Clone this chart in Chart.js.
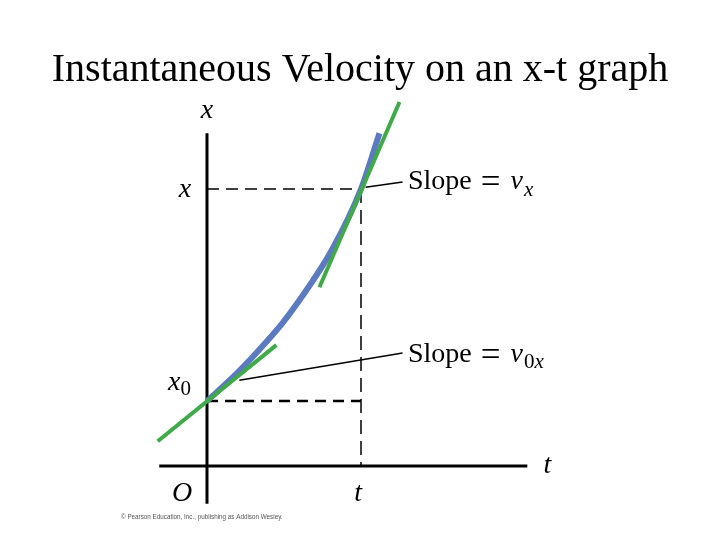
<!DOCTYPE html>
<html>
<head>
<meta charset="utf-8">
<script src="https://cdn.jsdelivr.net/npm/chart.js@4.4.1/dist/chart.umd.min.js"></script>
<style>
  body { margin: 0; background: #fff; }
  #wrap { width: 720px; height: 540px; position: relative; }
</style>
</head>
<body>
<div id="wrap"><canvas id="chart"></canvas></div>
<script>
// t in units of the marked time t, x in units of x0
let curveT = [0, 0.17, 0.32, 0.49, 0.6, 0.81, 1.0, 1.12];
let curveX = [1.0, 1.37, 1.74, 2.2, 2.55, 3.32, 4.26, 5.12];

let tangent0T = [-0.32, 0.45];
let tangent0X = [0.38, 1.86];
let tangentT = [0.73, 1.25];
let tangentX = [2.75, 5.6];

let tMark = 1.0;
let xAtT = 4.26;
let x0 = 1.0;

let tAxis = [-0.31, 2.08];
let xAxis = [-0.58, 5.12];

let pointerVx = [[1.03, 4.29], [1.27, 4.37]];
let pointerV0x = [[0.21, 1.32], [1.27, 1.74]];

function pts(ts, xs) {
    return ts.map(function(t, i) { return { x: t, y: xs[i] }; });
}

const SERIF = '"Liberation Serif", "Times New Roman", serif';

// text labels drawn at scale positions
const textPlugin = {
    id: "textPlugin",
    afterDraw: function(c) {
        let ctx = c.ctx;
        let sx = c.scales.x, sy = c.scales.y;
        function px(t) { return sx.getPixelForValue(t); }
        function py(x) { return sy.getPixelForValue(x); }

        ctx.save();
        ctx.fillStyle = "#000";
        ctx.textBaseline = "alphabetic";

        // title
        ctx.font = "40px " + SERIF;
        ctx.textAlign = "center";
        ctx.fillText("Instantaneous Velocity on an x-t graph", 360, 81);

        ctx.font = "italic 28px " + SERIF;
        ctx.fillText("x", px(0), py(5.35));
        ctx.fillText("x", px(-0.143), py(4.14));
        ctx.fillText("t", px(2.21), py(-0.11));
        ctx.fillText("O", px(-0.162), py(-0.54));
        ctx.fillText("t", px(0.981), py(-0.54));

        // runs of text with subscripts
        function runs(list, t, x) {
            let cx = px(t), cy = py(x);
            ctx.textAlign = "left";
            list.forEach(function(r) {
                ctx.font = (r.italic ? "italic " : "") + r.size + "px " + SERIF;
                ctx.fillText(r.text, cx, cy + (r.dy || 0));
                cx += ctx.measureText(r.text).width + (r.gap || 0);
            });
        }
        runs([{ text: "x", italic: true, size: 28 },
              { text: "0", size: 21, dy: 5 }], -0.253, 1.17);
        runs([{ text: "Slope", size: 28, gap: 9 },
              { text: "=", size: 35, gap: 10, dy: 4 },
              { text: "v", italic: true, size: 28, gap: 1 },
              { text: "x", italic: true, size: 21, dy: 7 }], 1.305, 4.26);
        runs([{ text: "Slope", size: 28, gap: 9 },
              { text: "=", size: 35, gap: 10, dy: 4 },
              { text: "v", italic: true, size: 28, gap: 1 },
              { text: "0", size: 21, dy: 6 },
              { text: "x", italic: true, size: 21, dy: 6 }], 1.305, 1.6);

        // source line
        ctx.font = "6.3px 'Liberation Sans', Arial, sans-serif";
        ctx.fillStyle = "#555";
        ctx.fillText("\u00a9 Pearson Education, Inc., publishing as Addison Wesley.", 121, 519);
        ctx.restore();
    }
};

const GREEN = "rgb(64,170,72)";
const BLUE = "rgb(92,122,192)";

let chart = new Chart(document.getElementById("chart").getContext("2d"), {
    type: "scatter",
    data: {
        datasets: [
            { data: pts(tangentT, tangentX), borderColor: GREEN, borderWidth: 4, order: 0 },
            { data: pts(tangent0T, tangent0X), borderColor: GREEN, borderWidth: 4, order: 0 },
            { data: pts(curveT, curveX), borderColor: BLUE, borderWidth: 6,
              cubicInterpolationMode: "monotone", order: 1 },
            { data: [{ x: 0, y: xAtT }, { x: tMark, y: xAtT }], borderColor: "#000",
              borderWidth: 1.5, borderDash: [12, 7], order: 3 },
            { data: [{ x: tMark, y: xAtT }, { x: tMark, y: 0 }], borderColor: "#000",
              borderWidth: 1.5, borderDash: [14, 7], order: 3 },
            { data: [{ x: 0, y: x0 }, { x: tMark, y: x0 }], borderColor: "#000",
              borderWidth: 2.5, borderDash: [11, 7], order: 3 },
            { data: [{ x: 0, y: xAxis[0] }, { x: 0, y: xAxis[1] }], borderColor: "#000",
              borderWidth: 3, order: 2 },
            { data: [{ x: tAxis[0], y: 0 }, { x: tAxis[1], y: 0 }], borderColor: "#000",
              borderWidth: 3, order: 2 },
            { data: pointerVx.map(function(p) { return { x: p[0], y: p[1] }; }),
              borderColor: "#000", borderWidth: 1.5, order: 0 },
            { data: pointerV0x.map(function(p) { return { x: p[0], y: p[1] }; }),
              borderColor: "#000", borderWidth: 1.5, order: 0 }
        ]
    },
    options: {
        responsive: true,
        maintainAspectRatio: false,
        animation: false,
        showLine: true,
        layout: { padding: 0 },
        elements: { point: { radius: 0, hoverRadius: 0 }, line: { borderCapStyle: "butt" } },
        plugins: { legend: { display: false }, tooltip: { enabled: false } },
        scales: {
            x: { type: "linear", display: false, min: -1.344, max: 3.331 },
            y: { type: "linear", display: false, min: -1.138, max: 7.169 }
        }
    },
    plugins: [textPlugin]
});
</script>
</body>
</html>
